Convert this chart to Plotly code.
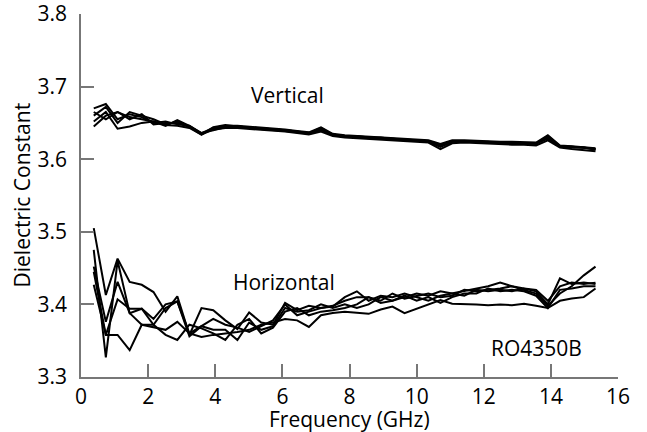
import plotly.graph_objects as go

freq_ghz = [0.38, 0.74, 1.09, 1.45, 1.81, 2.16, 2.52, 2.87, 3.23, 3.59, 3.94, 4.30,
            4.66, 5.01, 5.37, 5.72, 6.08, 6.44, 6.79, 7.15, 7.50, 7.86, 8.22, 8.57,
            8.93, 9.28, 9.64, 10.00, 10.35, 10.71, 11.06, 11.42, 11.78, 12.13, 12.49,
            12.84, 13.20, 13.56, 13.91, 14.27, 14.62, 14.98, 15.33]

vertical_1 = [3.670, 3.676, 3.655, 3.662, 3.658, 3.650, 3.652, 3.648, 3.646, 3.636, 3.643, 3.646,
              3.646, 3.645, 3.644, 3.642, 3.641, 3.639, 3.637, 3.644, 3.635, 3.633, 3.632, 3.631,
              3.630, 3.629, 3.628, 3.627, 3.626, 3.621, 3.626, 3.626, 3.625, 3.625, 3.624, 3.624,
              3.623, 3.623, 3.633, 3.619, 3.618, 3.617, 3.615]
vertical_2 = [3.660, 3.672, 3.650, 3.665, 3.660, 3.655, 3.648, 3.652, 3.644, 3.634, 3.644, 3.647,
              3.645, 3.644, 3.643, 3.641, 3.640, 3.638, 3.635, 3.641, 3.634, 3.632, 3.630, 3.630,
              3.628, 3.628, 3.626, 3.625, 3.625, 3.618, 3.624, 3.625, 3.624, 3.623, 3.623, 3.622,
              3.622, 3.621, 3.630, 3.618, 3.617, 3.615, 3.614]
vertical_3 = [3.645, 3.660, 3.665, 3.655, 3.662, 3.648, 3.650, 3.650, 3.645, 3.636, 3.640, 3.644,
              3.644, 3.643, 3.642, 3.640, 3.639, 3.637, 3.636, 3.640, 3.633, 3.631, 3.631, 3.629,
              3.629, 3.627, 3.627, 3.626, 3.624, 3.617, 3.624, 3.624, 3.623, 3.624, 3.622, 3.623,
              3.621, 3.622, 3.628, 3.617, 3.616, 3.616, 3.613]
vertical_4 = [3.665, 3.655, 3.665, 3.658, 3.655, 3.652, 3.646, 3.654, 3.646, 3.635, 3.642, 3.645,
              3.645, 3.644, 3.643, 3.642, 3.640, 3.638, 3.636, 3.643, 3.634, 3.632, 3.632, 3.630,
              3.630, 3.628, 3.627, 3.626, 3.625, 3.620, 3.625, 3.625, 3.624, 3.624, 3.623, 3.622,
              3.622, 3.622, 3.632, 3.618, 3.617, 3.616, 3.614]
vertical_5 = [3.652, 3.665, 3.642, 3.645, 3.650, 3.652, 3.647, 3.646, 3.643, 3.634, 3.641, 3.643,
              3.643, 3.642, 3.641, 3.639, 3.638, 3.636, 3.634, 3.638, 3.632, 3.630, 3.629, 3.628,
              3.627, 3.626, 3.625, 3.624, 3.623, 3.614, 3.622, 3.623, 3.622, 3.621, 3.621, 3.620,
              3.620, 3.619, 3.626, 3.616, 3.614, 3.612, 3.611]

horizontal_1 = [3.505, 3.413, 3.463, 3.431, 3.427, 3.417, 3.390, 3.411, 3.358, 3.395, 3.392, 3.378,
                3.366, 3.389, 3.375, 3.372, 3.402, 3.392, 3.398, 3.395, 3.397, 3.410, 3.418, 3.405,
                3.412, 3.410, 3.415, 3.410, 3.405, 3.412, 3.415, 3.418, 3.422, 3.425, 3.430, 3.425,
                3.422, 3.420, 3.405, 3.425, 3.430, 3.428, 3.430]
horizontal_2 = [3.475, 3.327, 3.460, 3.388, 3.372, 3.372, 3.395, 3.404, 3.360, 3.370, 3.380, 3.372,
                3.368, 3.362, 3.370, 3.378, 3.400, 3.385, 3.390, 3.395, 3.398, 3.405, 3.410, 3.410,
                3.405, 3.415, 3.408, 3.412, 3.415, 3.410, 3.412, 3.420, 3.418, 3.420, 3.422, 3.425,
                3.420, 3.415, 3.398, 3.415, 3.425, 3.440, 3.452]
horizontal_3 = [3.452, 3.376, 3.431, 3.388, 3.394, 3.380, 3.400, 3.404, 3.356, 3.370, 3.365, 3.365,
                3.351, 3.375, 3.365, 3.370, 3.395, 3.390, 3.392, 3.400, 3.395, 3.400, 3.395, 3.400,
                3.410, 3.405, 3.410, 3.415, 3.412, 3.418, 3.415, 3.412, 3.420, 3.418, 3.420, 3.418,
                3.422, 3.418, 3.400, 3.436, 3.428, 3.430, 3.428]
horizontal_4 = [3.445, 3.358, 3.358, 3.337, 3.372, 3.369, 3.365, 3.376, 3.360, 3.355, 3.358, 3.360,
                3.362, 3.365, 3.372, 3.375, 3.380, 3.378, 3.369, 3.385, 3.388, 3.390, 3.388, 3.387,
                3.393, 3.397, 3.388, 3.394, 3.400, 3.406, 3.401, 3.401, 3.400, 3.399, 3.400, 3.399,
                3.401, 3.398, 3.395, 3.405, 3.408, 3.410, 3.422]
horizontal_5 = [3.427, 3.358, 3.407, 3.394, 3.394, 3.372, 3.358, 3.351, 3.372, 3.367, 3.360, 3.351,
                3.372, 3.380, 3.360, 3.368, 3.390, 3.395, 3.385, 3.390, 3.392, 3.395, 3.400, 3.410,
                3.402, 3.405, 3.412, 3.405, 3.410, 3.402, 3.410, 3.415, 3.415, 3.422, 3.418, 3.420,
                3.418, 3.412, 3.395, 3.420, 3.422, 3.425, 3.425]

x_ticks = [0, 2, 4, 6, 8, 10, 12, 14, 16]
y_ticks = [3.3, 3.4, 3.5, 3.6, 3.7, 3.8]
y_tick_text = ["3.3", "3.4", "3.5", "3.6", "3.7", "3.8"]

FONT = "Open Sans"
FS = 21

fig = go.Figure()
for ys in [vertical_1, vertical_2, vertical_3, vertical_4, vertical_5,
           horizontal_1, horizontal_2, horizontal_3, horizontal_4, horizontal_5]:
    fig.add_trace(go.Scatter(x=freq_ghz, y=ys, mode="lines",
                             line=dict(color="black", width=2), showlegend=False,
                             hoverinfo="skip"))

fig.add_annotation(x=6.16, y=3.688, text="Vertical", showarrow=False,
                   font=dict(family=FONT, size=FS, color="black"))
fig.add_annotation(x=6.04, y=3.431, text="Horizontal", showarrow=False,
                   font=dict(family=FONT, size=FS, color="black"))
fig.add_annotation(x=13.57, y=3.34, text="RO4350B", showarrow=False,
                   font=dict(family=FONT, size=FS, color="black"))
# axis titles
fig.add_annotation(xref="paper", yref="paper", x=0.5, y=0, yshift=-42,
                   text="Frequency (GHz)", showarrow=False, yanchor="middle",
                   font=dict(family=FONT, size=FS, color="black"))
fig.add_annotation(xref="paper", yref="paper", x=0, y=0.5, xshift=-60,
                   text="Dielectric Constant", showarrow=False, textangle=-90,
                   xanchor="center", yanchor="middle",
                   font=dict(family=FONT, size=FS, color="black"))

axis_common = dict(showgrid=False, zeroline=False, showline=True, linecolor="#777777",
                   linewidth=1.5, ticks="inside", ticklen=13, tickcolor="#777777",
                   tickwidth=1.5, automargin=False, ticklabeloverflow="allow",
                   tickfont=dict(family=FONT, size=FS, color="black"))

fig.update_xaxes(range=[0, 16], tickvals=x_ticks, ticktext=[str(t) for t in x_ticks],
                 **axis_common)
fig.update_yaxes(range=[3.3, 3.8], tickvals=y_ticks, ticktext=y_tick_text,
                 ticklabelstandoff=8, **axis_common)

fig.update_layout(width=647, height=432, plot_bgcolor="white", paper_bgcolor="white",
                  margin=dict(l=81, r=29, t=14, b=55))

fig.write_html("out.html", config={"displayModeBar": False},
               post_script="document.body.style.margin='0';")
